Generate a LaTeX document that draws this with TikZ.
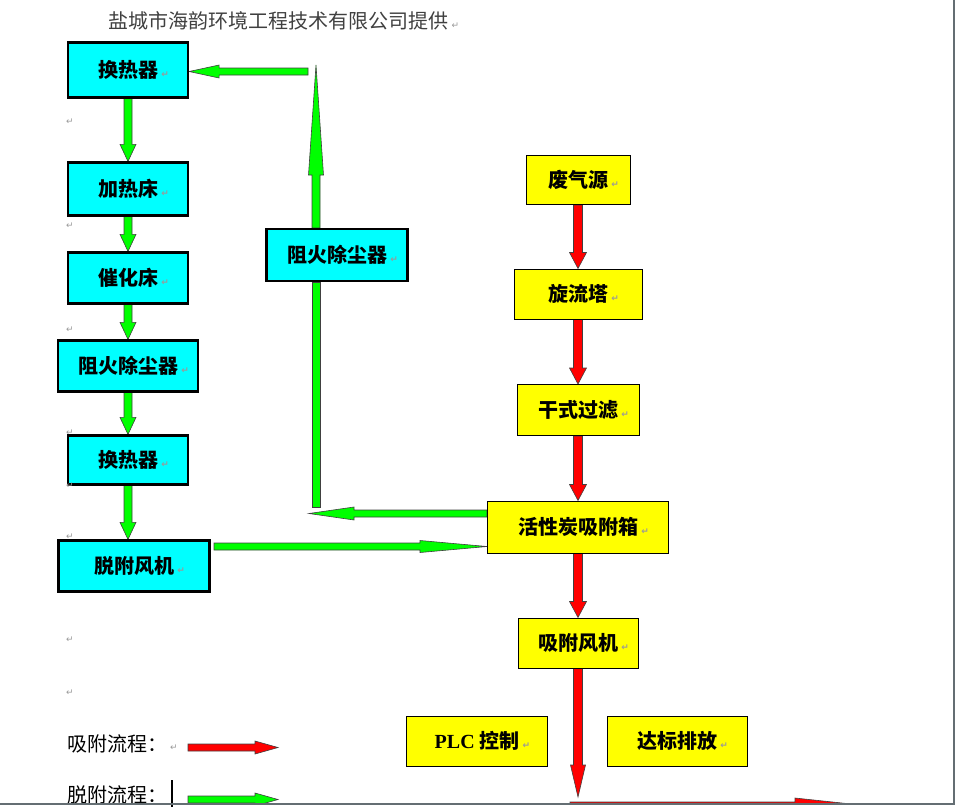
\documentclass[tikz,border=0pt]{standalone}
\usepackage{fontspec}
\setmainfont{Noto Sans CJK SC}
\newfontfamily\markfont{DejaVu Sans}
\newfontfamily\latinfont{Liberation Serif}
\usetikzlibrary{calc,positioning}
\pgfdeclarelayer{background}
\pgfsetlayers{background,main}

\definecolor{boxcyan}{RGB}{0,255,255}
\definecolor{boxyellow}{RGB}{255,255,0}
\definecolor{flowgreen}{RGB}{0,255,0}
\definecolor{flowred}{RGB}{255,0,0}
\definecolor{pagegray}{RGB}{100,110,115}

% Absatzmarke
\newcommand{\retmark}{{\markfont\fontsize{9}{9}\selectfont\color{black!40}↵}}
% Blockpfeil: Stil, Anfang, Spitze, halbe Schaftbreite, halbe Kopfbreite, Kopflaenge
\newcommand{\blockarrow}[6]{%
  \coordinate (hb) at ($(#3)!#6!(#2)$);
  \draw[#1] ($(#2)!#4!90:(#3)$) -- ($(hb)!#4!90:(#3)$) -- ($(hb)!#5!90:(#3)$) -- (#3)
    -- ($(hb)!#5!-90:(#3)$) -- ($(hb)!#4!-90:(#3)$) -- ($(#2)!#4!-90:(#3)$) -- cycle;}
% Schaft ohne Kopf
\newcommand{\blockbar}[4]{%
  \draw[#1] ($(#2)!#4!90:(#3)$) -- ($(#3)!#4!-90:(#2)$) -- ($(#3)!#4!90:(#2)$)
    -- ($(#2)!#4!-90:(#3)$) -- cycle;}

\begin{document}
\begin{tikzpicture}[x=1pt, y=-1pt,
    cbox/.style={draw=black, line width=2.2pt, fill=boxcyan, inner sep=0pt,
      font=\bfseries\fontsize{20}{24}\selectfont},
    ybox/.style={draw=black, line width=1pt, fill=boxyellow, inner sep=0pt,
      font=\bfseries\fontsize{20}{24}\selectfont},
    garrow/.style={fill=flowgreen, draw=black!75, line width=0.6pt},
    rarrow/.style={fill=flowred, draw=black!75, line width=0.6pt},
    plain/.style={font=\fontsize{20}{24}\selectfont, inner sep=0pt}
  ]
  \useasboundingbox (0,0) rectangle (955,807);

  % Kopfzeile
  \node[plain, anchor=west, text=black!75] (title) at (108,21) {盐城市海韵环境工程技术有限公司提供\,\retmark};

  % Desorption (links)
  \node[cbox, minimum width=120pt, minimum height=55pt] (hr1) at (128,70) {换热器\rlap{\,\retmark}};
  \node[cbox, minimum width=120pt, minimum height=53pt] (jrc) at (128,189) {加热床\rlap{\,\retmark}};
  \node[cbox, minimum width=120pt, minimum height=51pt] (chc) at (128,278) {催化床\rlap{\,\retmark}};
  \node[cbox, minimum width=140pt, minimum height=51pt] (zh1) at (128,366) {阻火除尘器\rlap{\,\retmark}};
  \node[cbox, minimum width=120pt, minimum height=49pt] (hr2) at (128,460) {换热器\rlap{\,\retmark}};
  \node[cbox, minimum width=151pt, minimum height=51pt] (tfj) at (134,566) {脱附风机\rlap{\,\retmark}};
  \node[cbox, minimum width=141pt, minimum height=52pt] (zh2) at (337,255) {阻火除尘器\rlap{\,\retmark}};

  % Adsorption (rechts)
  \node[ybox, minimum width=104pt, minimum height=49pt] (fqy) at (578,180) {废气源\rlap{\,\retmark}};
  \node[ybox, minimum width=128pt, minimum height=50pt] (xlt) at (578,294) {旋流塔\rlap{\,\retmark}};
  \node[ybox, minimum width=122pt, minimum height=51pt] (gsl) at (578,410) {干式过滤\rlap{\,\retmark}};
  \node[ybox, minimum width=181pt, minimum height=52pt] (hxt) at (578,527) {活性炭吸附箱\rlap{\,\retmark}};
  \node[ybox, minimum width=120pt, minimum height=50pt] (xfj) at (578,643) {吸附风机\rlap{\,\retmark}};
  \node[ybox, minimum width=141pt, minimum height=50pt] (plc) at (477,741) {{\latinfont PLC} 控制\rlap{\,\retmark}};
  \node[ybox, minimum width=140pt, minimum height=50pt] (dbp) at (677,741) {达标排放\rlap{\,\retmark}};

  % Legende
  \node[plain, anchor=west] (lgad) at (67,744) {吸附流程：};
  \node[inner sep=0pt] (lgm) at (174,748) {\retmark};
  \node[plain, anchor=west] (lgde) at (67,795) {脱附流程：};
  \draw[line width=1.3pt] (172,780) -- (172,807);

  % Absatzmarken am Rand
  \foreach \yy in {122,226,330,433,486,537,640,693}
    \node[inner sep=0pt] (pm\yy) at (70,\yy) {\retmark};

  % Hilfspunkte
  \coordinate (up0) at (316,507);
  \coordinate (up1) at (up0 |- zh2.south);
  \coordinate (up2) at (up0 |- zh2.north);
  \coordinate (up3) at (316,65);
  \coordinate (tl0) at (308,71.5);
  \coordinate (tl1) at (tl0 -| hr1.east);
  \coordinate (rt1) at (309,513.5);
  \coordinate (rt0) at (rt1 -| hxt.west);
  \coordinate (lf0) at (214,546.5);
  \coordinate (lf1) at (lf0 -| hxt.west);
  \coordinate (tf0) at (hr2.south |- tfj.north);
  \coordinate (ex0) at (578,797);
  \coordinate (ex1) at (570,806);
  \coordinate (ex2) at (870,806);
  \coordinate (lg1) at (188,747.5);
  \coordinate (lg2) at (278,747.5);
  \coordinate (lg3) at (188,799.5);
  \coordinate (lg4) at (278,799.5);

  \begin{pgfonlayer}{background}
    % gruene Pfeile
    \blockarrow{garrow}{hr1.south}{jrc.north}{4pt}{8pt}{17pt}
    \blockarrow{garrow}{jrc.south}{chc.north}{4pt}{8pt}{17pt}
    \blockarrow{garrow}{chc.south}{zh1.north}{4pt}{8pt}{17pt}
    \blockarrow{garrow}{zh1.south}{hr2.north}{4pt}{8pt}{17pt}
    \blockarrow{garrow}{hr2.south}{tf0}{4pt}{8pt}{17pt}
    \blockarrow{garrow}{lf0}{lf1}{3.5pt}{6pt}{67pt}
    \blockarrow{garrow}{rt0}{rt1}{3.5pt}{6.5pt}{45pt}
    \blockbar{garrow}{up0}{up1}{4pt}
    \blockarrow{garrow}{up2}{up3}{4pt}{7.5pt}{110pt}
    \blockarrow{garrow}{tl0}{tl1}{3.5pt}{6.5pt}{30pt}
    % rote Pfeile
    \blockarrow{rarrow}{fqy.south}{xlt.north}{4.5pt}{8.5pt}{16pt}
    \blockarrow{rarrow}{xlt.south}{gsl.north}{4.5pt}{8.5pt}{16pt}
    \blockarrow{rarrow}{gsl.south}{hxt.north}{4.5pt}{8.5pt}{16pt}
    \blockarrow{rarrow}{hxt.south}{xfj.north}{4.5pt}{8.5pt}{16pt}
    \blockarrow{rarrow}{xfj.south}{ex0}{4.5pt}{7.5pt}{32pt}
    \blockarrow{rarrow}{lg1}{lg2}{3.5pt}{6.5pt}{23pt}
    \begin{scope}
      \clip (0,0) rectangle (954,804);
      \blockarrow{rarrow}{ex1}{ex2}{4pt}{8pt}{75pt}
      \blockarrow{garrow}{lg3}{lg4}{3.5pt}{6.5pt}{23pt}
    \end{scope}
  \end{pgfonlayer}

  % Seitenrand
  \draw[pagegray, line width=1.3pt] (954,0) -- (954,804) -- (0,804);
\end{tikzpicture}
\end{document}
